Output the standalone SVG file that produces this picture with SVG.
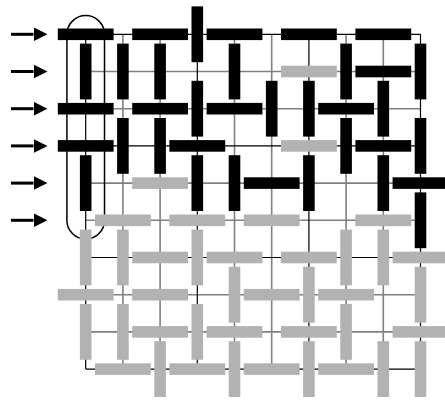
<svg xmlns="http://www.w3.org/2000/svg" xmlns:xlink="http://www.w3.org/1999/xlink" width="445" height="400" viewBox="0 0 445 400">
<style>
.g{fill:#b2b2b2}
.b{fill:#000}
.fine{stroke:#808080;stroke-width:1.6;fill:none}
.coarse{stroke:#000;stroke-width:1.2;fill:none}
.arrow{stroke:#000;stroke-width:3}
</style>
<defs>
<rect id="h" x="-27.9" y="-5.8" width="55.8" height="11.6"/>
<rect id="v" x="-5.8" y="-27.9" width="11.6" height="55.8"/>
<marker id="ah" markerUnits="userSpaceOnUse" markerWidth="15" markerHeight="15" refX="0" refY="7" orient="auto">
<path d="M0,0 L14,7 L0,14 Z" fill="#000"/>
</marker>
</defs>
<rect width="445" height="400" fill="#fff"/>
<g id="connectors">
<path class="fine" d="M85.7 71.5H420.5M85.7 108.7H420.5M85.7 183.1H420.5M85.7 220.3H420.5M85.7 294.7H420.5M85.7 331.9H420.5M122.9 34.3V369.1M160.1 34.3V369.1M234.5 34.3V369.1M271.7 34.3V369.1M346.1 34.3V369.1M383.3 34.3V369.1"/>
<path class="coarse" d="M85.7 34.3H420.5M85.7 145.9H420.5M85.7 257.5H420.5M85.7 369.1H420.5M85.7 34.3V369.1M197.3 34.3V369.1M308.9 34.3V369.1M420.5 34.3V369.1"/>
</g>
<rect id="loop" x="66.9" y="15.6" width="37.6" height="223.4" rx="18.8" fill="none" stroke="#000" stroke-width="1.5"/>
<g id="arrows">
<line class="arrow" x1="11" y1="34.3" x2="33.5" y2="34.3" marker-end="url(#ah)"/>
<line class="arrow" x1="11" y1="71.5" x2="33.5" y2="71.5" marker-end="url(#ah)"/>
<line class="arrow" x1="11" y1="108.7" x2="33.5" y2="108.7" marker-end="url(#ah)"/>
<line class="arrow" x1="11" y1="145.9" x2="33.5" y2="145.9" marker-end="url(#ah)"/>
<line class="arrow" x1="11" y1="183.1" x2="33.5" y2="183.1" marker-end="url(#ah)"/>
<line class="arrow" x1="11" y1="220.3" x2="33.5" y2="220.3" marker-end="url(#ah)"/>
</g>
<g id="row0">
<use id="d0-0" xlink:href="#h" class="b" x="85.7" y="34.3"/>
<use id="d0-2" xlink:href="#h" class="b" x="160.1" y="34.3"/>
<use id="d0-3" xlink:href="#v" class="b" x="197.3" y="34.3"/>
<use id="d0-4" xlink:href="#h" class="b" x="234.5" y="34.3"/>
<use id="d0-6" xlink:href="#h" class="b" x="308.9" y="34.3"/>
<use id="d0-8" xlink:href="#h" class="b" x="383.3" y="34.3"/>
</g>
<g id="row1">
<use id="d1-0" xlink:href="#v" class="b" x="85.7" y="71.5"/>
<use id="d1-1" xlink:href="#v" class="b" x="122.9" y="71.5"/>
<use id="d1-2" xlink:href="#v" class="b" x="160.1" y="71.5"/>
<use id="d1-4" xlink:href="#v" class="b" x="234.5" y="71.5"/>
<use id="d1-6" xlink:href="#h" class="g" x="308.9" y="71.5"/>
<use id="d1-7" xlink:href="#v" class="b" x="346.1" y="71.5"/>
<use id="d1-8" xlink:href="#h" class="b" x="383.3" y="71.5"/>
<use id="d1-9" xlink:href="#v" class="b" x="420.5" y="71.5"/>
</g>
<g id="row2">
<use id="d2-0" xlink:href="#h" class="b" x="85.7" y="108.7"/>
<use id="d2-2" xlink:href="#h" class="b" x="160.1" y="108.7"/>
<use id="d2-3" xlink:href="#v" class="b" x="197.3" y="108.7"/>
<use id="d2-4" xlink:href="#h" class="b" x="234.5" y="108.7"/>
<use id="d2-5" xlink:href="#v" class="b" x="271.7" y="108.7"/>
<use id="d2-6" xlink:href="#v" class="b" x="308.9" y="108.7"/>
<use id="d2-7" xlink:href="#h" class="b" x="346.1" y="108.7"/>
<use id="d2-8" xlink:href="#v" class="b" x="383.3" y="108.7"/>
</g>
<g id="row3">
<use id="d3-0" xlink:href="#h" class="b" x="85.7" y="145.9"/>
<use id="d3-1" xlink:href="#v" class="b" x="122.9" y="145.9"/>
<use id="d3-2" xlink:href="#v" class="b" x="160.1" y="145.9"/>
<use id="d3-3" xlink:href="#h" class="b" x="197.3" y="145.9"/>
<use id="d3-6" xlink:href="#h" class="g" x="308.9" y="145.9"/>
<use id="d3-7" xlink:href="#v" class="b" x="346.1" y="145.9"/>
<use id="d3-8" xlink:href="#h" class="b" x="383.3" y="145.9"/>
<use id="d3-9" xlink:href="#v" class="b" x="420.5" y="145.9"/>
</g>
<g id="row4">
<use id="d4-0" xlink:href="#v" class="b" x="85.7" y="183.1"/>
<use id="d4-2" xlink:href="#h" class="g" x="160.1" y="183.1"/>
<use id="d4-3" xlink:href="#v" class="b" x="197.3" y="183.1"/>
<use id="d4-4" xlink:href="#v" class="b" x="234.5" y="183.1"/>
<use id="d4-5" xlink:href="#h" class="b" x="271.7" y="183.1"/>
<use id="d4-6" xlink:href="#v" class="b" x="308.9" y="183.1"/>
<use id="d4-8" xlink:href="#v" class="b" x="383.3" y="183.1"/>
<use id="d4-9" xlink:href="#h" class="b" x="420.5" y="183.1"/>
</g>
<g id="row5">
<use id="d5-1" xlink:href="#h" class="g" x="122.9" y="220.3"/>
<use id="d5-3" xlink:href="#h" class="g" x="197.3" y="220.3"/>
<use id="d5-5" xlink:href="#h" class="g" x="271.7" y="220.3"/>
<use id="d5-8" xlink:href="#h" class="g" x="383.3" y="220.3"/>
<use id="d5-9" xlink:href="#v" class="b" x="420.5" y="220.3"/>
</g>
<g id="row6">
<use id="d6-0" xlink:href="#v" class="g" x="85.7" y="257.5"/>
<use id="d6-1" xlink:href="#v" class="g" x="122.9" y="257.5"/>
<use id="d6-2" xlink:href="#h" class="g" x="160.1" y="257.5"/>
<use id="d6-3" xlink:href="#v" class="g" x="197.3" y="257.5"/>
<use id="d6-4" xlink:href="#h" class="g" x="234.5" y="257.5"/>
<use id="d6-6" xlink:href="#h" class="g" x="308.9" y="257.5"/>
<use id="d6-7" xlink:href="#v" class="g" x="346.1" y="257.5"/>
<use id="d6-8" xlink:href="#v" class="g" x="383.3" y="257.5"/>
<use id="d6-9" xlink:href="#h" class="g" x="420.5" y="257.5"/>
</g>
<g id="row7">
<use id="d7-0" xlink:href="#h" class="g" x="85.7" y="294.7"/>
<use id="d7-2" xlink:href="#h" class="g" x="160.1" y="294.7"/>
<use id="d7-4" xlink:href="#v" class="g" x="234.5" y="294.7"/>
<use id="d7-5" xlink:href="#h" class="g" x="271.7" y="294.7"/>
<use id="d7-6" xlink:href="#v" class="g" x="308.9" y="294.7"/>
<use id="d7-7" xlink:href="#h" class="g" x="346.1" y="294.7"/>
<use id="d7-9" xlink:href="#v" class="g" x="420.5" y="294.7"/>
</g>
<g id="row8">
<use id="d8-0" xlink:href="#v" class="g" x="85.7" y="331.9"/>
<use id="d8-1" xlink:href="#v" class="g" x="122.9" y="331.9"/>
<use id="d8-2" xlink:href="#h" class="g" x="160.1" y="331.9"/>
<use id="d8-3" xlink:href="#v" class="g" x="197.3" y="331.9"/>
<use id="d8-4" xlink:href="#h" class="g" x="234.5" y="331.9"/>
<use id="d8-6" xlink:href="#h" class="g" x="308.9" y="331.9"/>
<use id="d8-7" xlink:href="#v" class="g" x="346.1" y="331.9"/>
<use id="d8-9" xlink:href="#h" class="g" x="420.5" y="331.9"/>
</g>
<g id="row9">
<use id="d9-1" xlink:href="#h" class="g" x="122.9" y="369.1"/>
<use id="d9-2" xlink:href="#v" class="g" x="160.1" y="369.1"/>
<use id="d9-3" xlink:href="#h" class="g" x="197.3" y="369.1"/>
<use id="d9-4" xlink:href="#v" class="g" x="234.5" y="369.1"/>
<use id="d9-5" xlink:href="#h" class="g" x="271.7" y="369.1"/>
<use id="d9-6" xlink:href="#v" class="g" x="308.9" y="369.1"/>
<use id="d9-7" xlink:href="#h" class="g" x="346.1" y="369.1"/>
<use id="d9-8" xlink:href="#v" class="g" x="383.3" y="369.1"/>
<use id="d9-9" xlink:href="#v" class="g" x="420.5" y="369.1"/>
</g>
</svg>
